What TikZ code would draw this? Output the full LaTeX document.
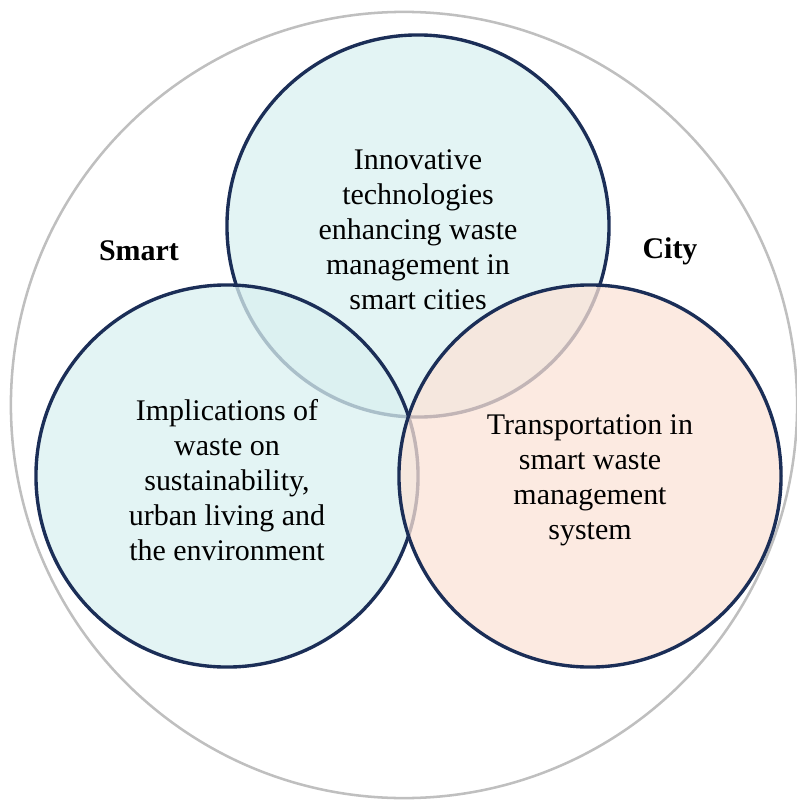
\documentclass[tikz,border=0pt]{standalone}
\usepackage{fontspec}
\setmainfont{Liberation Serif}
\definecolor{bordure}{HTML}{1B2E57}
\definecolor{cyanpale}{HTML}{DAF0F0}
\definecolor{peche}{HTML}{FBE3D7}
\definecolor{grisclair}{HTML}{BFBFBF}

\begin{document}
\begin{tikzpicture}[x=0.025cm, y=-0.025cm,
    cercle/.style={circle, draw=bordure, line width=2.4pt, minimum size=9.55cm, inner sep=0pt, fill opacity=.75},
    texte/.style={align=center, font=\fontsize{21.3}{24.9}\selectfont, inner sep=0pt, yshift=-0.1cm},
    titre/.style={font=\fontsize{21.3}{24.9}\selectfont\bfseries, inner sep=0pt}]
    \useasboundingbox (0,0) rectangle (796,800);
    % grand cercle gris
    \node[circle, draw=grisclair, line width=1.8pt, minimum size=19.65cm, inner sep=0pt] (ville) at (404,405) {};
    % les trois cercles
    \node[cercle, fill=cyanpale] (techno) at (418,226) {};
    \node[cercle, fill=cyanpale] (impact) at (227,476) {};
    \node[cercle, fill=peche] (transport) at (590,476) {};
    % textes
    \node[texte] (ttechno) at (techno.center) {Innovative\\technologies\\enhancing waste\\management in\\smart cities};
    \node[texte] (timpact) at (impact.center) {Implications of\\waste on\\sustainability,\\urban living and\\the environment};
    \node[texte] (ttransport) at (transport.center) {Transportation in\\smart waste\\management\\system};
    % titres
    \node[titre] (smart) at (139,251) {Smart};
    \node[titre] (city) at (670,251) {City};
\end{tikzpicture}
\end{document}
